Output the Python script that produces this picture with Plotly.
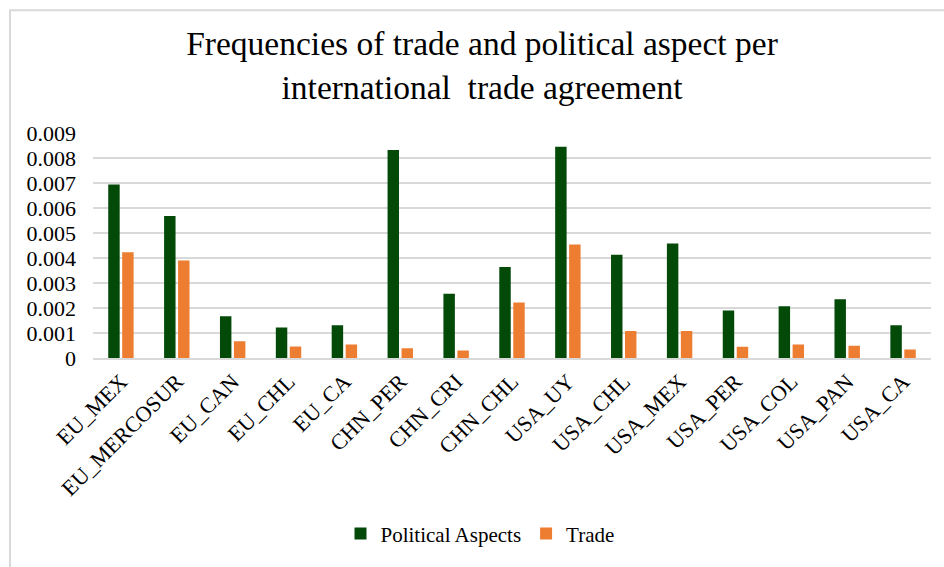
import plotly.graph_objects as go

# Trade agreements and the relative frequency of each aspect
agreements = ["EU_MEX", "EU_MERCOSUR", "EU_CAN", "EU_CHL", "EU_CA",
              "CHN_PER", "CHN_CRI", "CHN_CHL", "USA_UY", "USA_CHL",
              "USA_MEX", "USA_PER", "USA_COL", "USA_PAN", "USA_CA"]
political = [0.00694, 0.00568, 0.00167, 0.00122, 0.00131,
             0.00832, 0.00257, 0.00364, 0.00845, 0.00413,
             0.00458, 0.00190, 0.00207, 0.00235, 0.00131]
trade = [0.00423, 0.00390, 0.00067, 0.00046, 0.00054,
         0.00039, 0.00030, 0.00222, 0.00454, 0.00108,
         0.00108, 0.00045, 0.00054, 0.00049, 0.00034]
y_ticks = [0, 0.001, 0.002, 0.003, 0.004, 0.005, 0.006, 0.007, 0.008, 0.009]
y_tick_text = ["0", "0.001", "0.002", "0.003", "0.004", "0.005",
               "0.006", "0.007", "0.008", "0.009"]

GREEN = "#034A08"
ORANGE = "#ED7D31"
GRID = "#D9D9D9"
FONT = "Liberation Serif, Times New Roman, serif"

# Plot-area geometry in pixels
W, H = 944, 567
L, R, T, B = 93, 13, 133, 205
pw, ph = W - L - R, H - T - B

fig = go.Figure()
fig.add_trace(go.Bar(x=agreements, y=political, name="Political Aspects",
                     marker=dict(color=GREEN, line=dict(width=0))))
fig.add_trace(go.Bar(x=agreements, y=trade, name="Trade",
                     marker=dict(color=ORANGE, line=dict(width=0))))

# Thin chart-area frame (top and left edges fall inside the page)
fig.add_shape(type="rect", xref="paper", yref="paper",
              x0=(10 - L) / pw, x1=(W + 20 - L) / pw,
              y0=-(H + 20 - T - ph) / ph, y1=1 + (T - 8) / ph,
              line=dict(color=GRID, width=2), fillcolor="rgba(0,0,0,0)",
              layer="below")

fig.update_layout(
    width=W, height=H,
    margin=dict(l=L, r=R, t=T, b=B, pad=0),
    paper_bgcolor="white", plot_bgcolor="white",
    font=dict(family=FONT, color="#000000", size=21),
    title=dict(text="Frequencies of trade and political aspect per<br>international  trade agreement",
               x=482 / W, xanchor="center", xref="container",
               y=1 - 55 / H, yanchor="middle", yref="container",
               font=dict(family=FONT, size=33.5, color="#000000")),
    barmode="group", bargap=0.5, bargroupgap=0.18,
    showlegend=True,
    legend=dict(orientation="h", x=(480 - L) / pw, xanchor="center",
                y=-(541 - T - ph) / ph, yanchor="middle",
                font=dict(family=FONT, size=21, color="#000000"),
                itemwidth=30, traceorder="normal", bgcolor="rgba(0,0,0,0)"),
    xaxis=dict(showgrid=False, showline=True, linecolor=GRID, linewidth=2,
               ticks="", tickangle=-45,
               tickfont=dict(family=FONT, size=22, color="#000000")),
    yaxis=dict(range=[0, 0.009], tickvals=y_ticks, ticktext=y_tick_text,
               showgrid=True, gridcolor=GRID, gridwidth=2,
               zeroline=False, showline=False, ticks="",
               ticklabelstandoff=16,
               tickfont=dict(family=FONT, size=22, color="#000000")),
)

fig.write_html("out.html")
